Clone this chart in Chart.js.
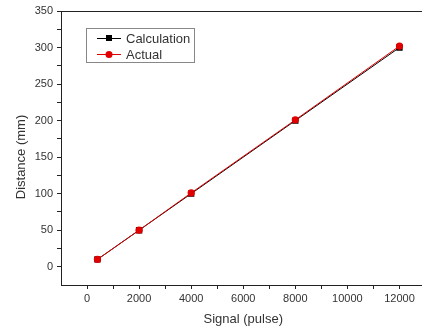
<!DOCTYPE html>
<html>
<head>
<meta charset="utf-8">
<script src="https://cdn.jsdelivr.net/npm/chart.js@4/dist/chart.umd.min.js"></script>
<style>
  html, body { margin: 0; padding: 0; background: #fff; overflow: hidden; }
</style>
</head>
<body>
<canvas id="kalibrierung" width="430" height="329"></canvas>
<script>
// Messwerte: Signal (Pulse) gegen Weg (mm)
const signal = [400, 2000, 4000, 8000, 12000];
const calculation = [10, 50, 100, 200, 300];
const actual = [10, 50, 101, 201, 302];

const xTicks = [0, 1000, 2000, 3000, 4000, 5000, 6000, 7000, 8000, 9000, 10000, 11000, 12000];
const yTicks = [0, 25, 50, 75, 100, 125, 150, 175, 200, 225, 250, 275, 300, 325, 350];

const achsenFarbe = '#222';
const textFarbe = '#333';
const schrift = 'Liberation Sans, Arial, sans-serif';

// Rahmen, Achsentitel und Legende selbst zeichnen
const rahmenUndLegende = {
  id: 'rahmenUndLegende',
  afterDraw(chart) {
    const ctx = chart.ctx;
    const a = chart.chartArea;
    ctx.save();
    ctx.strokeStyle = achsenFarbe;
    ctx.lineWidth = 1;
    ctx.beginPath();
    ctx.moveTo(a.left, a.top + 0.5);
    ctx.lineTo(a.right, a.top + 0.5);
    ctx.lineTo(a.right, a.bottom);
    ctx.stroke();

    // Achsentitel
    ctx.fillStyle = textFarbe;
    ctx.font = '13px ' + schrift;
    ctx.textAlign = 'center';
    ctx.textBaseline = 'middle';
    ctx.fillText('Signal (pulse)', (a.left + a.right) / 2, 319);
    ctx.save();
    ctx.translate(21, 157);
    ctx.rotate(-Math.PI / 2);
    ctx.fillText('Distance (mm)', 0, 0);
    ctx.restore();

    // Legende
    ctx.strokeStyle = '#888';
    ctx.strokeRect(86.5, 28.5, 108, 34);
    const eintraege = [
      { text: 'Calculation', farbe: '#000', y: 38, form: 'rect' },
      { text: 'Actual', farbe: '#e00000', y: 54, form: 'circle' }
    ];
    eintraege.forEach(e => {
      ctx.strokeStyle = e.farbe;
      ctx.beginPath();
      ctx.moveTo(97, e.y + 0.5);
      ctx.lineTo(121, e.y + 0.5);
      ctx.stroke();
      ctx.fillStyle = e.farbe;
      if (e.form === 'rect') {
        ctx.fillRect(106, e.y - 3, 6, 6);
      } else {
        ctx.beginPath();
        ctx.arc(109, e.y + 0.5, 3.5, 0, Math.PI * 2);
        ctx.fill();
      }
      ctx.fillStyle = textFarbe;
      ctx.font = '13px ' + schrift;
      ctx.textAlign = 'left';
      ctx.fillText(e.text, 126, e.y + 1);
    });
    ctx.restore();
  }
};

new Chart(document.getElementById('kalibrierung'), {
  type: 'scatter',
  data: {
    datasets: [
      {
        label: 'Calculation',
        data: signal.map((s, i) => ({ x: s, y: calculation[i] })),
        showLine: true,
        borderColor: '#000',
        backgroundColor: '#000',
        borderWidth: 1,
        pointStyle: 'rect',
        pointRadius: 4.5,
        pointBorderWidth: 0,
        order: 2
      },
      {
        label: 'Actual',
        data: signal.map((s, i) => ({ x: s, y: actual[i] })),
        showLine: true,
        borderColor: '#e00000',
        backgroundColor: '#e00000',
        borderWidth: 1,
        pointStyle: 'circle',
        pointRadius: 3.6,
        pointBorderWidth: 0,
        order: 1
      }
    ]
  },
  options: {
    responsive: false,
    animation: false,
    layout: { padding: { top: 11, right: 2, left: 0, bottom: 0 } },
    plugins: { legend: { display: false }, tooltip: { enabled: false } },
    scales: {
      x: {
        type: 'linear',
        min: -1000,
        max: 13000,
        afterBuildTicks: scale => { scale.ticks = xTicks.map(v => ({ value: v })); },
        afterFit: scale => { scale.height = 44; },
        grid: { drawOnChartArea: false, drawTicks: true, tickLength: 4, tickColor: achsenFarbe },
        border: { display: true, color: achsenFarbe, width: 1 },
        ticks: {
          autoSkip: false,
          maxRotation: 0,
          padding: 3,
          color: textFarbe,
          font: { family: schrift, size: 11 },
          callback: v => (v % 2000 === 0 ? String(v) : '')
        }
      },
      y: {
        min: -25,
        max: 350,
        afterBuildTicks: scale => { scale.ticks = yTicks.map(v => ({ value: v })); },
        afterFit: scale => { scale.width = 61; },
        grid: { drawOnChartArea: false, drawTicks: true, tickLength: 4, tickColor: achsenFarbe },
        border: { display: true, color: achsenFarbe, width: 1 },
        ticks: {
          autoSkip: false,
          padding: 4,
          color: textFarbe,
          font: { family: schrift, size: 11 },
          callback: v => (v % 50 === 0 ? String(v) : '')
        }
      }
    }
  },
  plugins: [rahmenUndLegende]
});
</script>
</body>
</html>
